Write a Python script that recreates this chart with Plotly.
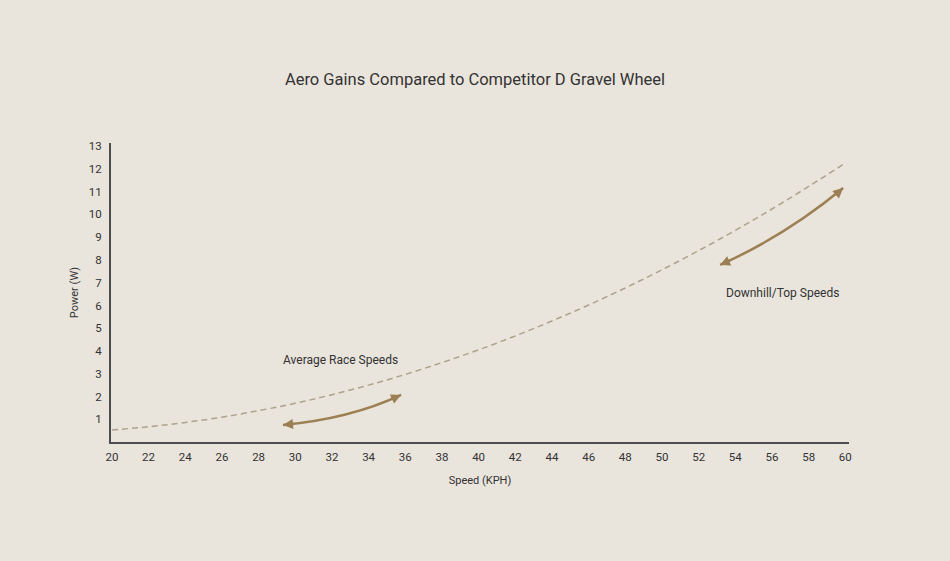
import plotly.graph_objects as go

# ---- data ----
speed_kph = [20, 22, 24, 26, 28, 30, 32, 34, 36, 38, 40, 42, 44, 46, 48, 50, 52, 54, 56, 58, 60]
power_w = [0.53, 0.67, 0.86, 1.09, 1.38, 1.70, 2.08, 2.50, 2.97, 3.49, 4.05, 4.66, 5.32, 6.02,
           6.77, 7.57, 8.41, 9.30, 10.24, 11.23, 12.26]
x_ticks = list(range(20, 61, 2))
y_ticks = list(range(1, 14))

title_text = "Aero Gains Compared to Competitor D Gravel Wheel"
x_title = "Speed (KPH)"
y_title = "Power (W)"

# annotation arrows: start, control, end (data units)
avg_arrow = [(29.33, 0.75), (33.0, 1.02), (35.77, 2.07)]
top_arrow = [(53.17, 7.78), (56.8, 9.1), (59.88, 11.16)]
avg_label = ("Average Race Speeds", 32.45, 3.6)
top_label = ("Downhill/Top Speeds", 56.55, 6.53)

BG = "#e9e4dc"
TXT = "#333333"
AXIS = "#4d4d4d"
ARROW = "#9c7f52"
DASH = "#ada28c"
FONT = "Roboto, Noto Sans, sans-serif"

fig = go.Figure()
fig.add_trace(go.Scatter(
    x=speed_kph, y=power_w, mode="lines",
    line=dict(color=DASH, width=1.5, dash="6px,4px", shape="spline"),
    hoverinfo="skip", showlegend=False,
))

shapes = []
annotations = []
for (p0, c, p1), tails in [
    (avg_arrow, [(12, -1), (-11, 5)]),
    (top_arrow, [(11, -5), (-9, 8)]),
]:
    shapes.append(dict(
        type="path", xref="x", yref="y",
        path=f"M {p0[0]},{p0[1]} Q {c[0]},{c[1]} {p1[0]},{p1[1]}",
        line=dict(color=ARROW, width=2.5),
    ))
    for pt, (ax, ay) in zip([p0, p1], tails):
        annotations.append(dict(
            x=pt[0], y=pt[1], xref="x", yref="y", text="", showarrow=True,
            ax=ax, ay=ay, arrowhead=2, arrowsize=0.8, arrowwidth=2.5,
            arrowcolor=ARROW, standoff=0,
        ))

for txt, lx, ly in [avg_label, top_label]:
    annotations.append(dict(
        x=lx, y=ly, xref="x", yref="y", text=txt, showarrow=False,
        font=dict(family=FONT, size=12, color=TXT),
    ))

fig.update_layout(
    width=950, height=561,
    paper_bgcolor=BG, plot_bgcolor=BG,
    margin=dict(l=111, r=101, t=143, b=119),
    title=dict(text=title_text, x=0.5, xanchor="center", y=1 - 79 / 561, yanchor="middle",
               font=dict(family=FONT, size=16.5, color=TXT)),
    shapes=shapes, annotations=annotations,
    xaxis=dict(
        range=[19.95, 60.2], tickvals=x_ticks, ticktext=[str(v) for v in x_ticks],
        showgrid=False, zeroline=False, showline=True, linecolor=AXIS, linewidth=2,
        ticks="", ticklabelstandoff=3,
        tickfont=dict(family=FONT, size=11.5, color=TXT),
        title=dict(text=x_title, standoff=14, font=dict(family=FONT, size=11, color=TXT)),
    ),
    yaxis=dict(
        range=[0, 13.14], tickvals=y_ticks, ticktext=[str(v) for v in y_ticks],
        showgrid=False, zeroline=False, showline=True, linecolor=AXIS, linewidth=2,
        ticks="", ticklabelstandoff=5,
        tickfont=dict(family=FONT, size=11.5, color=TXT),
        title=dict(text=y_title, standoff=8, font=dict(family=FONT, size=11, color=TXT)),
    ),
)

fig.write_html("out.html", config={"displayModeBar": False},
               post_script="document.body.style.margin='0';document.body.style.background='" + BG + "';")
